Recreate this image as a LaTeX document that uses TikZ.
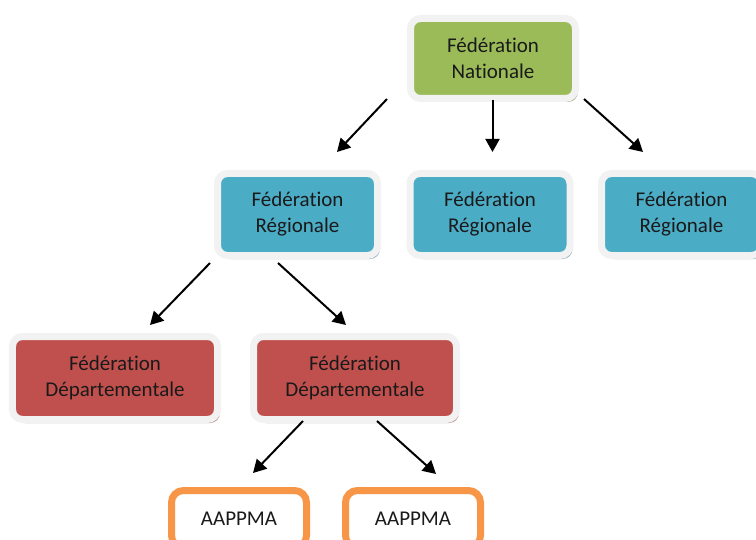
\documentclass[tikz,border=0pt]{standalone}
\usepackage{fontspec}
\setmainfont[Ligatures=NoCommon]{Carlito}
\usetikzlibrary{arrows.meta,shadows}
\definecolor{cgreen}{HTML}{9BBB59}
\definecolor{cblue}{HTML}{4BACC6}
\definecolor{cred}{HTML}{C0504D}
\definecolor{corange}{HTML}{F79646}
\definecolor{framecol}{HTML}{F2F2F2}
\definecolor{txtcol}{HTML}{1A1A1A}
\begin{document}
\begin{tikzpicture}[x=1bp,y=-1bp,
  card/.style={rounded corners=10bp, draw=framecol, line width=7bp, fill=#1,
    align=center, font=\fontsize{21bp}{26bp}\selectfont, text=txtcol, inner sep=0pt,
    drop shadow={shadow xshift=2.5bp, shadow yshift=-3.5bp, opacity=1, fill=#1!45!gray!80}},
  leaf/.style={rounded corners=12bp, draw=corange, line width=7bp, fill=white,
    align=center, font=\fontsize{21bp}{26bp}\selectfont, text=txtcol, inner sep=0pt,
    minimum width=135bp, minimum height=57bp},
  conn/.style={line width=2bp, -{Triangle[length=13bp,width=14bp]}}
]
\useasboundingbox (0,0) rectangle (756,540);

\node[card=cgreen, minimum width=165bp, minimum height=80bp] (nat) at (493,58.5) {Fédération\\Nationale};
\node[card=cblue, minimum width=160bp, minimum height=82bp] (reg1) at (297.5,214.5) {Fédération\\Régionale};
\node[card=cblue, minimum width=160bp, minimum height=82bp] (reg2) at (490,214.5) {Fédération\\Régionale};
\node[card=cblue, minimum width=160bp, minimum height=82bp] (reg3) at (681.5,214.5) {Fédération\\Régionale};
\node[card=cred, minimum width=205bp, minimum height=83bp] (dep1) at (115,378) {Fédération\\Départementale};
\node[card=cred, minimum width=203bp, minimum height=83bp] (dep2) at (355,378) {Fédération\\Départementale};
\node[leaf] (aa1) at (239,519) {AAPPMA};
\node[leaf] (aa2) at (413,519) {AAPPMA};

\coordinate (a1s) at (387,99);  \coordinate (a1e) at (337,152);
\coordinate (a2s) at (492.5,100); \coordinate (a2e) at (492.5,152);
\coordinate (a3s) at (584,99);  \coordinate (a3e) at (643,152);
\coordinate (b1s) at (210,263); \coordinate (b1e) at (150,325);
\coordinate (b2s) at (278,263); \coordinate (b2e) at (346,325);
\coordinate (c1s) at (303,421); \coordinate (c1e) at (253,473);
\coordinate (c2s) at (377,421); \coordinate (c2e) at (436,474);

\draw[conn] (a1s) -- (a1e);
\draw[conn] (a2s) -- (a2e);
\draw[conn] (a3s) -- (a3e);
\draw[conn] (b1s) -- (b1e);
\draw[conn] (b2s) -- (b2e);
\draw[conn] (c1s) -- (c1e);
\draw[conn] (c2s) -- (c2e);
\end{tikzpicture}
\end{document}
